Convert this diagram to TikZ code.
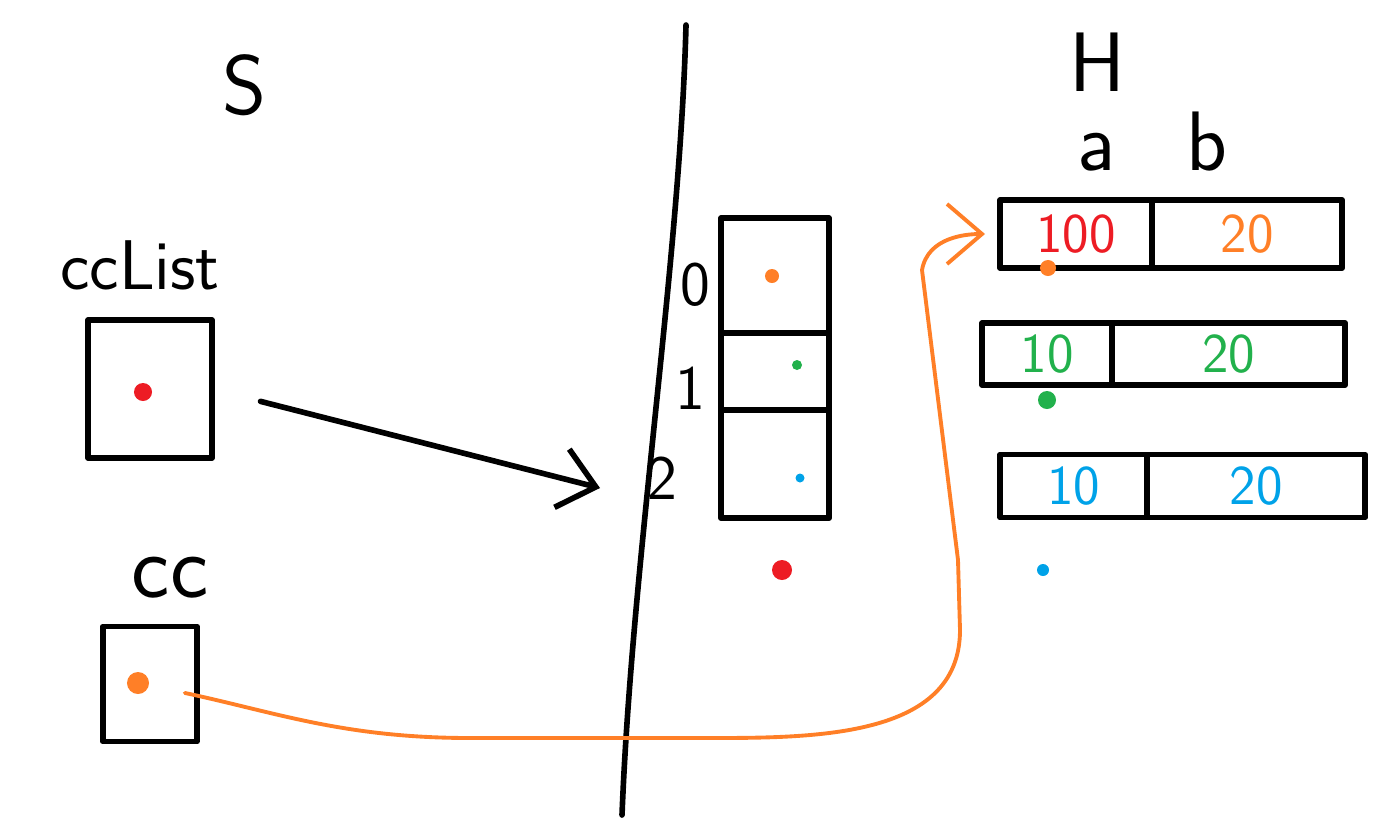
\documentclass[tikz,border=0pt]{standalone}
\usepackage{xcolor}
\usepackage{tikz}
\usetikzlibrary{positioning,arrows.meta}
\definecolor{rojo}{RGB}{237,28,36}
\definecolor{naranja}{RGB}{255,127,39}
\definecolor{verde}{RGB}{34,177,76}
\definecolor{azul}{RGB}{0,162,232}

\begin{document}
\begin{tikzpicture}[
  x=0.01cm, y=-0.01cm,
  line width=1.6pt, line cap=round, line join=round,
  font=\sffamily,
  titulo/.style={font=\sffamily\fontsize{24}{28}\selectfont},
  indice/.style={font=\sffamily\fontsize{18}{20}\selectfont},
  caja/.style={draw, inner sep=0pt, outer sep=0pt},
  celda/.style={draw, inner sep=0pt, outer sep=0pt,
                font=\sffamily\fontsize{16}{18}\selectfont},
  punto/.style={circle, fill=#1, inner sep=0pt},
  flecha/.style={-{Straight Barb[length=3.5mm,width=6mm]}},
]
\useasboundingbox (0,0) rectangle (1388,824);
% ---- Stack ---------------------------------------------------------------
\node[titulo] (ts) at (245,85) {S};
\node[font=\sffamily\fontsize{20}{24}\selectfont] (tlista) at (140,265) {ccList};
\node[caja, minimum width=1.24cm, minimum height=1.38cm] (lista) at (150,389) {};
\node[punto=rojo, minimum size=0.18cm] (plista) at (143,392) {};
\node[font=\sffamily\fontsize{26}{30}\selectfont] (tcc) at (170,578) {cc};
\node[caja, minimum width=0.94cm, minimum height=1.15cm] (cc) at (150,684) {};
\node[punto=naranja, minimum size=0.22cm] (pcc) at (138,683) {};
% ---- Separador -----------------------------------------------------------
\draw (686,25) .. controls (680,260) and (632,560) .. (622,815);
% ---- Arreglo -------------------------------------------------------------
\node[celda, minimum width=1.08cm, minimum height=1.15cm] (c0) at (775,275.5) {};
\node[celda, minimum width=1.08cm, minimum height=0.77cm, below=0pt of c0] (c1) {};
\node[celda, minimum width=1.08cm, minimum height=1.08cm, below=0pt of c1] (c2) {};
\foreach \i/\px/\py in {0/695/285, 1/690/388, 2/662/478} {
  \node[indice] (i\i) at (\px,\py) {\i};
}
\node[punto=naranja, minimum size=0.14cm] (p0) at (772,276) {};
\node[punto=verde, minimum size=0.10cm] (p1) at (797,365) {};
\node[punto=azul, minimum size=0.09cm] (p2) at (800,478) {};
\node[punto=rojo, minimum size=0.20cm] (pr) at (782,570) {};
% ---- Heap ----------------------------------------------------------------
\node[titulo] (th) at (1097,62) {H};
\node[font=\sffamily\fontsize{24}{28}\selectfont] (ta) at (1097,152) {a};
\node[font=\sffamily\fontsize{24}{28}\selectfont] (tb) at (1207,142) {b};
\node[celda, minimum width=1.52cm, minimum height=0.68cm, anchor=west,
  text=rojo] (h1a) at (1000,234) {100};
\node[celda, minimum width=1.90cm, minimum height=0.68cm, anchor=west,
  text=naranja] (h1b) at (h1a.east) {20};
\node[celda, minimum width=1.30cm, minimum height=0.62cm, anchor=west,
  text=verde] (h2a) at (982,354) {10};
\node[celda, minimum width=2.33cm, minimum height=0.62cm, anchor=west,
  text=verde] (h2b) at (h2a.east) {20};
\node[celda, minimum width=1.47cm, minimum height=0.63cm, anchor=west,
  text=azul] (h3a) at (1000,486) {10};
\node[celda, minimum width=2.18cm, minimum height=0.63cm, anchor=west,
  text=azul] (h3b) at (h3a.east) {20};
\node[punto=naranja, minimum size=0.16cm] (q1) at (1048,268) {};
\node[punto=verde, minimum size=0.18cm] (q2) at (1047,400) {};
\node[punto=azul, minimum size=0.12cm] (q3) at (1043,570) {};
% ---- Flechas -------------------------------------------------------------
\coordinate (destino) at (600,488);
\draw[flecha, shorten <=0.5cm] (lista.east) -- (destino);
\draw[flecha, naranja, line width=1.1pt, shorten <=0.34cm, shorten >=0.15cm]
  (pcc) to[out=-12,in=180] (470,738) -- (700,738)
  to[out=0,in=-90] (960,630) -- (958,560) -- (922,270)
  to[out=80,in=180] (h1a.west);
\end{tikzpicture}
\end{document}
